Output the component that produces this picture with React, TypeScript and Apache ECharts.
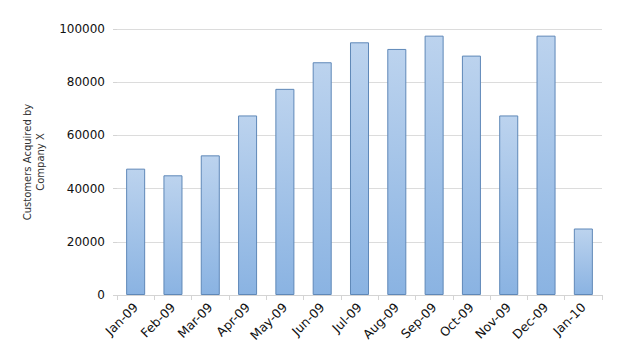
import React, { useEffect, useRef } from "react";
import * as echarts from "echarts";

const categories = ["Jan-09", "Feb-09", "Mar-09", "Apr-09", "May-09", "Jun-09", "Jul-09", "Aug-09", "Sep-09", "Oct-09", "Nov-09", "Dec-09", "Jan-10"];
const customers = [47500, 45000, 52500, 67500, 77500, 87500, 95000, 92500, 97500, 90000, 67500, 97500, 25000];
const yTicks = { min: 0, max: 100000, interval: 20000 };
const yAxisTitle = "Customers Acquired by\nCompany X";

export default function App() {
  const ref = useRef<HTMLDivElement>(null);
  useEffect(() => {
    if (!ref.current) return;
    const chart = echarts.init(ref.current, null, { renderer: "svg" });
    chart.setOption({
      animation: false,
      grid: { left: 109, right: 14, top: 21, bottom: 51 },
      xAxis: {
        type: "category",
        data: categories,
        axisLine: { show: true, lineStyle: { color: "#d4d4d4" } },
        axisTick: { show: true, alignWithLabel: false, length: 5, lineStyle: { color: "#d4d4d4" } },
        axisLabel: { rotate: 45, fontFamily: "DejaVu Sans", fontSize: 12.5, color: "#111", margin: 10, interval: 0 },
      },
      yAxis: {
        type: "value",
        min: yTicks.min,
        max: yTicks.max,
        interval: yTicks.interval,
        name: yAxisTitle,
        nameLocation: "middle",
        nameGap: 70,
        nameRotate: 90,
        nameTextStyle: { fontFamily: "DejaVu Sans", fontSize: 10, color: "#333", lineHeight: 13, align: "center" },
        axisLine: { show: false },
        axisTick: { show: true, length: 4, lineStyle: { color: "#d4d4d4" } },
        axisLabel: { fontFamily: "DejaVu Sans", fontSize: 12, color: "#111", margin: 12, formatter: (v: number) => String(v) },
        splitLine: { lineStyle: { color: "#dcdcdc" } },
      },
      series: [
        {
          type: "bar",
          data: customers,
          barWidth: "51%",
          itemStyle: {
            color: new echarts.graphic.LinearGradient(0, 0, 0, 1, [
              { offset: 0, color: "#bcd3ee" },
              { offset: 1, color: "#8ab3e2" },
            ]),
            borderColor: "#5f88b8",
            borderWidth: 1,
          },
        },
      ],
    });
    return () => chart.dispose();
  }, []);
  return <div ref={ref} style={{ width: 608, height: 338 }} />;
}
